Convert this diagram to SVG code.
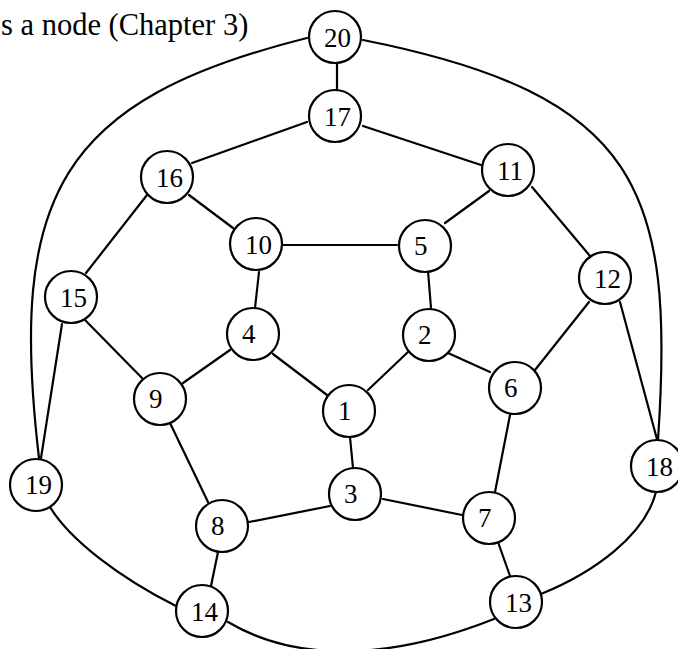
<svg xmlns="http://www.w3.org/2000/svg" width="678" height="649" viewBox="0 0 678 649">
  <style>
    .edge { fill: none; stroke: #000; stroke-width: 2.2; stroke-linecap: round; }
    .node circle { fill: #fff; stroke: #000; stroke-width: 2.2; }
    .node text { font-family: "Liberation Serif", "Times New Roman", serif; font-size: 27px; fill: #000; }
    .title { font-family: "Liberation Serif", "Times New Roman", serif; font-size: 30.5px; fill: #000; }
  </style>
  <rect width="678" height="649" fill="#fff"/>

  <text class="title" x="1" y="35">s a node (Chapter 3)</text>

  <!-- connectors -->
  <g id="edges">
    <line class="edge" x1="337" y1="63" x2="337" y2="90"/>
    <line class="edge" x1="307" y1="122" x2="192" y2="163"/>
    <line class="edge" x1="363" y1="126" x2="481" y2="165"/>
    <line class="edge" x1="189" y1="195" x2="233" y2="228"/>
    <line class="edge" x1="147" y1="195" x2="86" y2="273"/>
    <line class="edge" x1="283" y1="245" x2="397" y2="245"/>
    <line class="edge" x1="489" y1="191" x2="445" y2="223"/>
    <line class="edge" x1="532" y1="187" x2="590" y2="256"/>
    <line class="edge" x1="259" y1="272" x2="255" y2="308"/>
    <line class="edge" x1="428" y1="271" x2="431" y2="308"/>
    <line class="edge" x1="85" y1="320" x2="142" y2="378"/>
    <line class="edge" x1="62" y1="324" x2="41" y2="458"/>
    <line class="edge" x1="230" y1="350" x2="183" y2="383"/>
    <line class="edge" x1="273" y1="354" x2="327" y2="395"/>
    <line class="edge" x1="408" y1="352" x2="368" y2="390"/>
    <line class="edge" x1="448" y1="353" x2="490" y2="372"/>
    <line class="edge" x1="589" y1="302" x2="535" y2="370"/>
    <line class="edge" x1="620" y1="302" x2="658" y2="443"/>
    <line class="edge" x1="170" y1="423" x2="208" y2="502"/>
    <line class="edge" x1="350" y1="437" x2="353" y2="468"/>
    <line class="edge" x1="510" y1="415" x2="495" y2="492"/>
    <line class="edge" x1="330" y1="506" x2="249" y2="522"/>
    <line class="edge" x1="383" y1="499" x2="462" y2="515"/>
    <line class="edge" x1="218" y1="552" x2="211" y2="586"/>
    <line class="edge" x1="498" y1="542" x2="510" y2="576"/>
    <!-- outer curved edges -->
    <path class="edge" d="M307 38 C60 100 8 195 39 458"/>
    <path class="edge" d="M363 40 C640 95 675 190 658 440"/>
    <path class="edge" d="M228 622 C275 650 360 672 494 619"/>
    <path class="edge" d="M50 507 C70 540 120 578 176 606"/>
    <path class="edge" d="M656 492 C645 535 595 572 541 594"/>
  </g>

  <g id="n20" class="node"><circle cx="335" cy="37" r="26"/><text x="324" y="47">20</text></g>
  <g id="n17" class="node"><circle cx="335" cy="116" r="26"/><text x="324" y="126">17</text></g>
  <g id="n16" class="node"><circle cx="167" cy="177" r="26"/><text x="156" y="187">16</text></g>
  <g id="n11" class="node"><circle cx="508" cy="170" r="26"/><text x="497" y="180">11</text></g>
  <g id="n10" class="node"><circle cx="256" cy="244" r="26"/><text x="245" y="254">10</text></g>
  <g id="n5" class="node"><circle cx="425" cy="246" r="26"/><text x="414" y="255">5</text></g>
  <g id="n15" class="node"><circle cx="71" cy="297" r="26"/><text x="60" y="307">15</text></g>
  <g id="n12" class="node"><circle cx="605" cy="278" r="26"/><text x="594" y="288">12</text></g>
  <g id="n4" class="node"><circle cx="253" cy="334" r="26"/><text x="242" y="343">4</text></g>
  <g id="n2" class="node"><circle cx="429" cy="335" r="26"/><text x="418" y="344">2</text></g>
  <g id="n9" class="node"><circle cx="160" cy="399" r="26"/><text x="149" y="408">9</text></g>
  <g id="n6" class="node"><circle cx="515" cy="388" r="26"/><text x="504" y="397">6</text></g>
  <g id="n1" class="node"><circle cx="349" cy="411" r="26"/><text x="338" y="420">1</text></g>
  <g id="n19" class="node"><circle cx="36" cy="485" r="26"/><text x="25" y="494">19</text></g>
  <g id="n18" class="node"><circle cx="657" cy="466" r="26"/><text x="646" y="476">18</text></g>
  <g id="n3" class="node"><circle cx="355" cy="494" r="26"/><text x="344" y="503">3</text></g>
  <g id="n8" class="node"><circle cx="222" cy="526" r="26"/><text x="211" y="535">8</text></g>
  <g id="n7" class="node"><circle cx="489" cy="518" r="26"/><text x="478" y="527">7</text></g>
  <g id="n14" class="node"><circle cx="202" cy="611" r="26"/><text x="191" y="621">14</text></g>
  <g id="n13" class="node"><circle cx="516" cy="602" r="26"/><text x="505" y="612">13</text></g>
</svg>
